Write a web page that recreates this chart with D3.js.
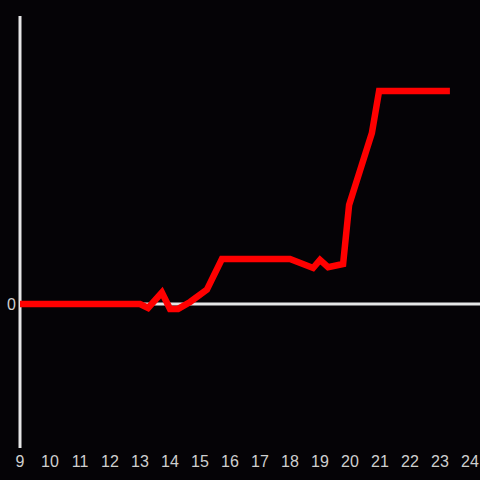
<!DOCTYPE html>
<html>
<head>
<meta charset="utf-8">
<script src="https://cdn.jsdelivr.net/npm/d3@7"></script>
<style>
  html, body { margin: 0; padding: 0; background: #050306; }
  svg { display: block; }
</style>
</head>
<body>
<svg id="chart" width="480" height="480"></svg>
<script>
// hour of day and value
const hours = [9, 13.0, 13.27, 13.73, 14.0, 14.27, 14.67, 15.23, 15.73, 18.0, 18.77, 19.0, 19.27, 19.77, 19.97, 20.73, 20.97, 23.33];
const values = [0, 0, -1.4, 4, -1.7, -1.7, 0.7, 5, 15.6, 15.6, 12.5, 15.3, 12.8, 13.9, 34.4, 59.4, 74, 74];
const xTicks = d3.range(9, 25);
const yTicks = [0];

const width = 480, height = 480;
const margin = { top: 16, left: 20, right: 10, bottom: 32 };

const svg = d3.select("#chart");

svg.append("rect")
  .attr("width", width)
  .attr("height", height)
  .attr("fill", "#050306");

const x = d3.scaleLinear()
  .domain([9, 24])
  .range([margin.left, width - margin.right]);

const y = d3.scaleLinear()
  .domain([-50, 100])
  .range([height - margin.bottom, margin.top]);

// zero line across the plot
svg.append("line")
  .attr("x1", x(9))
  .attr("x2", width)
  .attr("y1", y(0))
  .attr("y2", y(0))
  .attr("stroke", "#e6e6e6")
  .attr("stroke-width", 3);

// vertical axis
svg.append("line")
  .attr("x1", x(9))
  .attr("x2", x(9))
  .attr("y1", y(100))
  .attr("y2", y(-50))
  .attr("stroke", "#e6e6e6")
  .attr("stroke-width", 3);

// x tick labels
svg.append("g")
  .selectAll("text")
  .data(xTicks)
  .enter()
  .append("text")
  .attr("x", d => x(d))
  .attr("y", height - 13)
  .attr("text-anchor", "middle")
  .attr("fill", "#cfcfcf")
  .attr("font-family", "Liberation Sans, Arial, sans-serif")
  .attr("font-size", 16)
  .text(d => d);

// y tick label
svg.append("g")
  .selectAll("text")
  .data(yTicks)
  .enter()
  .append("text")
  .attr("x", x(9) - 4)
  .attr("y", d => y(d))
  .attr("dy", "0.35em")
  .attr("text-anchor", "end")
  .attr("fill", "#cfcfcf")
  .attr("font-family", "Liberation Sans, Arial, sans-serif")
  .attr("font-size", 16)
  .text(d => d);

const line = d3.line()
  .x(d => x(d[0]))
  .y(d => y(d[1]));

svg.append("path")
  .datum(hours.map((h, i) => [h, values[i]]))
  .attr("d", line)
  .attr("fill", "none")
  .attr("stroke", "#ff0000")
  .attr("stroke-width", 6.5)
  .attr("stroke-linejoin", "miter");
</script>
</body>
</html>
